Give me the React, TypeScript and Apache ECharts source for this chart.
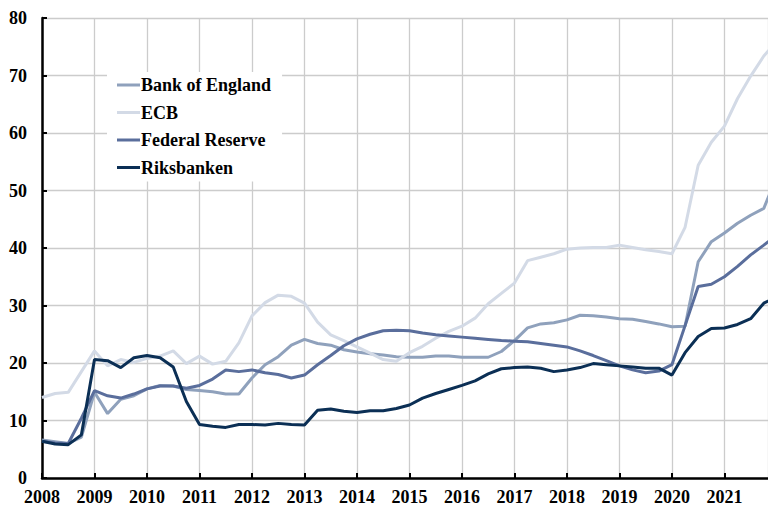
import React, { useEffect, useRef } from "react";
import * as echarts from "echarts";

// Quarterly observations, 2008Q1 .. 2022Q1 (last one lies past the right edge)
const quarters: string[] = [];
for (let y = 2008; y <= 2021; y++) for (let q = 1; q <= 4; q++) quarters.push(`${y}Q${q}`);
quarters.push("2022Q1");

const seriesNames = ["Bank of England", "ECB", "Federal Reserve", "Riksbanken"];

const bankOfEngland = [
  6.6, 6.3, 6.0, 7.1, 14.9, 11.2, 13.7, 14.3, 15.5, 16.1, 16.0, 15.4, 15.2, 15.0, 14.6, 14.6,
  17.4, 19.7, 21.1, 23.1, 24.1, 23.4, 23.1, 22.3, 21.9, 21.6, 21.4, 21.1, 21.0, 21.0, 21.2, 21.2,
  21.0, 21.0, 21.0, 22.0, 23.9, 26.1, 26.8, 27.0, 27.5, 28.3, 28.2, 28.0, 27.7, 27.6, 27.2, 26.8,
  26.3, 26.4, 37.6, 41.1, 42.6, 44.3, 45.7, 46.9, 52.5,
];
const ecb = [
  14.0, 14.7, 14.9, 18.5, 22.1, 19.5, 20.6, 20.1, 20.8, 21.2, 22.1, 19.9, 21.2, 19.8, 20.3, 23.5,
  28.2, 30.5, 31.8, 31.6, 30.4, 27.1, 24.9, 23.9, 22.8, 21.7, 20.6, 20.3, 21.8, 22.9, 24.3, 25.5,
  26.4, 27.8, 30.3, 32.1, 33.9, 37.8, 38.4, 39.0, 39.8, 40.0, 40.1, 40.1, 40.5, 40.1, 39.7, 39.4,
  39.0, 43.6, 54.4, 58.4, 61.2, 66.0, 69.9, 73.4, 76.0,
];
const federalReserve = [
  6.4, 6.1, 6.0, 10.4, 15.2, 14.3, 13.9, 14.6, 15.5, 16.0, 16.0, 15.6, 16.1, 17.2, 18.8, 18.5,
  18.8, 18.3, 18.0, 17.4, 17.9, 19.7, 21.3, 23.0, 24.2, 25.0, 25.6, 25.7, 25.6, 25.2, 24.9, 24.7,
  24.5, 24.3, 24.1, 23.9, 23.8, 23.7, 23.4, 23.1, 22.8, 22.1, 21.3, 20.4, 19.5, 18.8, 18.3, 18.6,
  19.7, 26.5, 33.3, 33.7, 35.0, 36.8, 38.8, 40.5, 42.3,
];
const riksbanken = [
  6.4, 5.9, 5.8, 7.5, 20.6, 20.4, 19.2, 20.9, 21.3, 20.9, 19.3, 13.3, 9.3, 9.0, 8.8, 9.3,
  9.3, 9.2, 9.5, 9.3, 9.2, 11.8, 12.0, 11.6, 11.4, 11.7, 11.7, 12.1, 12.7, 13.9, 14.7, 15.4,
  16.1, 16.9, 18.1, 19.0, 19.2, 19.3, 19.1, 18.5, 18.8, 19.2, 19.9, 19.7, 19.5, 19.3, 19.1, 19.1,
  17.9, 21.8, 24.6, 26.0, 26.1, 26.7, 27.7, 30.4, 31.5,
];

const colors = ["#8fa1bc", "#d3dae6", "#5a6e9c", "#0b2f55"];
const FONT = "'Liberation Serif', 'Times New Roman', serif";

const toYear = (q: string) => parseInt(q.slice(0, 4), 10) + (parseInt(q.slice(5), 10) - 1) / 4;

export default function App() {
  const ref = useRef<HTMLDivElement>(null);
  useEffect(() => {
    document.body.style.margin = "0";
    if (!ref.current) return;
    const chart = echarts.init(ref.current, undefined, { renderer: "svg" });
    const all = [bankOfEngland, ecb, federalReserve, riksbanken];
    chart.setOption({
      animation: false,
      backgroundColor: "#ffffff",
      grid: { left: 42, right: 0, top: 18, bottom: 30, containLabel: false },
      legend: {
        orient: "vertical",
        left: 107,
        top: 72,
        padding: [4, 11, 5, 10],
        backgroundColor: "#ffffff",
        icon: "rect",
        itemWidth: 23,
        itemHeight: 3,
        itemGap: 9.5,
        data: seriesNames,
        textStyle: {
          fontFamily: FONT,
          fontWeight: "bold",
          fontSize: 18,
          lineHeight: 18,
          color: "#000",
          padding: [0, 0, 0, -4],
        },
      },
      xAxis: {
        type: "value",
        min: 2008,
        max: 2021.83,
        interval: 1,
        axisLine: { show: true, lineStyle: { color: "#000", width: 2.5 } },
        axisTick: { show: true, inside: true, length: 5, lineStyle: { color: "#000", width: 2 } },
        axisLabel: {
          showMaxLabel: false,
          margin: 10,
          fontFamily: FONT,
          fontWeight: "bold",
          fontSize: 18,
          color: "#000",
          formatter: (v: number) => (Number.isInteger(v) ? String(v) : ""),
        },
        splitLine: { show: true, lineStyle: { color: "#cccccc", width: 1.3 } },
      },
      yAxis: {
        type: "value",
        min: 0,
        max: 80,
        interval: 10,
        axisLine: { show: true, lineStyle: { color: "#000", width: 2.5 } },
        axisTick: { show: true, inside: true, length: 5, lineStyle: { color: "#000", width: 2 } },
        axisLabel: {
          margin: 15,
          fontFamily: FONT,
          fontWeight: "bold",
          fontSize: 18,
          color: "#000",
        },
        splitLine: { show: true, lineStyle: { color: "#cccccc", width: 1.3 } },
      },
      series: seriesNames.map((name, i) => ({
        name,
        type: "line",
        showSymbol: false,
        symbol: "none",
        clip: true,
        color: colors[i],
        lineStyle: { color: colors[i], width: 3 },
        data: quarters.map((q, k) => [toYear(q), all[i][k]]),
        z: 2 + i,
      })),
    });
    return () => chart.dispose();
  }, []);
  return <div ref={ref} style={{ width: 768, height: 508 }} />;
}
